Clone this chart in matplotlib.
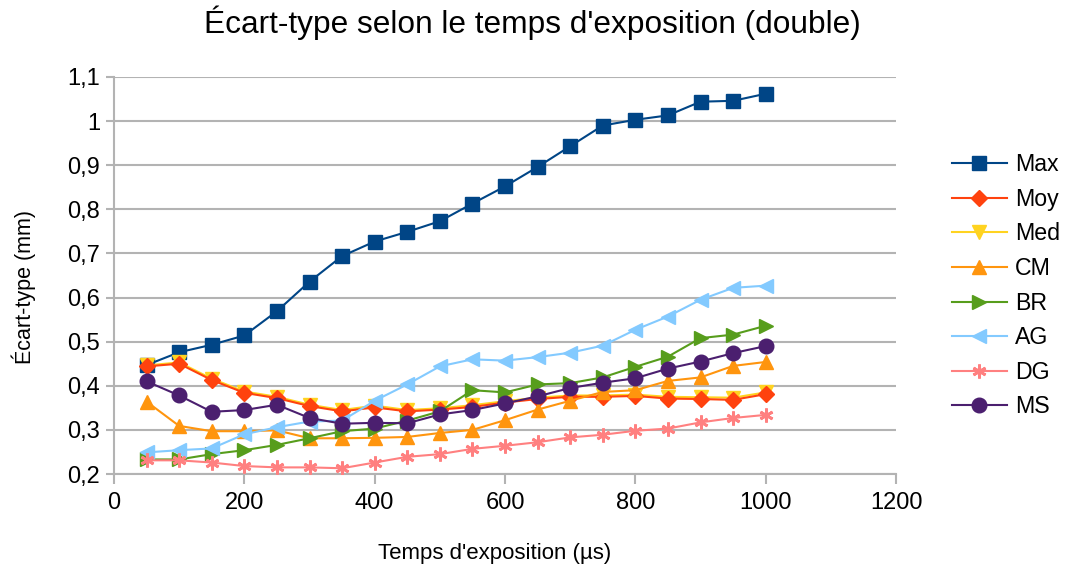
import matplotlib
matplotlib.use('Agg')
import matplotlib.pyplot as plt

plt.rcParams['font.family'] = ['Liberation Sans', 'DejaVu Sans']

temps = [50, 100, 150, 200, 250, 300, 350, 400, 450, 500,
         550, 600, 650, 700, 750, 800, 850, 900, 950, 1000]

ecart_max = [0.447, 0.476, 0.493, 0.514, 0.569, 0.636, 0.694, 0.727, 0.749, 0.773,
             0.813, 0.852, 0.896, 0.943, 0.990, 1.003, 1.013, 1.044, 1.046, 1.062]
ecart_moy = [0.444, 0.450, 0.413, 0.384, 0.372, 0.354, 0.342, 0.351, 0.342, 0.346,
             0.352, 0.362, 0.370, 0.375, 0.375, 0.377, 0.371, 0.370, 0.368, 0.381]
ecart_med = [0.446, 0.453, 0.416, 0.387, 0.375, 0.357, 0.345, 0.355, 0.345, 0.349,
             0.356, 0.365, 0.373, 0.378, 0.378, 0.380, 0.375, 0.374, 0.373, 0.385]
ecart_cm = [0.364, 0.309, 0.297, 0.297, 0.299, 0.281, 0.281, 0.282, 0.284, 0.293,
            0.300, 0.322, 0.346, 0.366, 0.386, 0.390, 0.411, 0.419, 0.445, 0.454]
ecart_br = [0.233, 0.233, 0.245, 0.254, 0.266, 0.281, 0.297, 0.303, 0.321, 0.342,
            0.390, 0.385, 0.403, 0.406, 0.419, 0.443, 0.466, 0.508, 0.516, 0.536]
ecart_ag = [0.249, 0.254, 0.258, 0.290, 0.306, 0.319, 0.321, 0.366, 0.403, 0.444,
            0.460, 0.457, 0.465, 0.475, 0.491, 0.527, 0.557, 0.595, 0.622, 0.627]
ecart_dg = [0.231, 0.231, 0.226, 0.218, 0.215, 0.215, 0.213, 0.226, 0.239, 0.245,
            0.257, 0.264, 0.272, 0.283, 0.289, 0.298, 0.303, 0.317, 0.327, 0.334]
ecart_ms = [0.410, 0.378, 0.341, 0.345, 0.357, 0.327, 0.314, 0.316, 0.315, 0.335,
            0.345, 0.360, 0.376, 0.395, 0.407, 0.417, 0.439, 0.455, 0.474, 0.490]

# nom, valeurs, couleur, marqueur, taille, zorder
series = [
    ('Max', ecart_max, '#004586', 's', 10, 3),
    ('Moy', ecart_moy, '#ff420e', 'D', 8.5, 3.5),  # Moy par-dessus Med
    ('Med', ecart_med, '#ffd320', 'v', 10, 3.2),
    ('CM', ecart_cm, '#ff950e', '^', 10, 3.6),
    ('BR', ecart_br, '#579d1c', '>', 10, 3.7),
    ('AG', ecart_ag, '#83caff', '<', 10, 3.8),
    ('DG', ecart_dg, '#ff8080', (6, 2, 0), 10, 3.9),
    ('MS', ecart_ms, '#4b1f6f', 'o', 10.5, 4),
]

fig = plt.figure(figsize=(10.65, 5.67), dpi=100)
ax = fig.add_axes([114 / 1065, 1 - 474 / 567, (896 - 114) / 1065, (474 - 77) / 567])

for nom, vals, col, mk, ms, z in series:
    ax.plot(temps, vals, color=col, marker=mk, markersize=ms, zorder=z,
            markeredgewidth=2 if nom == 'DG' else 1, linewidth=1.5, label=nom)

ax.set_xlim(0, 1200)
ax.set_ylim(0.2, 1.1)
ax.set_xticks(range(0, 1201, 200))
yt = [0.2 + 0.1 * i for i in range(10)]
ax.set_yticks(yt)
ax.set_yticklabels(['0,2', '0,3', '0,4', '0,5', '0,6', '0,7', '0,8', '0,9', '1', '1,1'])
ax.grid(axis='y', color='#b3b3b3', linewidth=1.5)
ax.set_axisbelow(True)
for s in ['top', 'right']:
    ax.spines[s].set_visible(False)
for s in ['left', 'bottom']:
    ax.spines[s].set_color('#b3b3b3')
    ax.spines[s].set_linewidth(1.5)
ax.tick_params(colors='#b3b3b3', labelcolor='black', labelsize=17, width=1.5)
ax.tick_params(axis='x', length=7, pad=6)
ax.tick_params(axis='y', length=6, pad=4)

ax.set_xlabel("Temps d'exposition (µs)", fontsize=16)
ax.xaxis.set_label_coords(0.4866, -0.174)
ax.set_ylabel('Écart-type (mm)', fontsize=15.5)
ax.yaxis.set_label_coords(-0.0997, 0.470)
fig.suptitle("Écart-type selon le temps d'exposition (double)", fontsize=22.8, y=0.99)

ax.legend(loc='center left', bbox_to_anchor=(1.0716, 0.474), frameon=False, fontsize=16.7,
          handlelength=2.37, handletextpad=0.36, labelspacing=0.50, borderaxespad=0,
          borderpad=0)

fig.savefig('out.png', dpi=100)
